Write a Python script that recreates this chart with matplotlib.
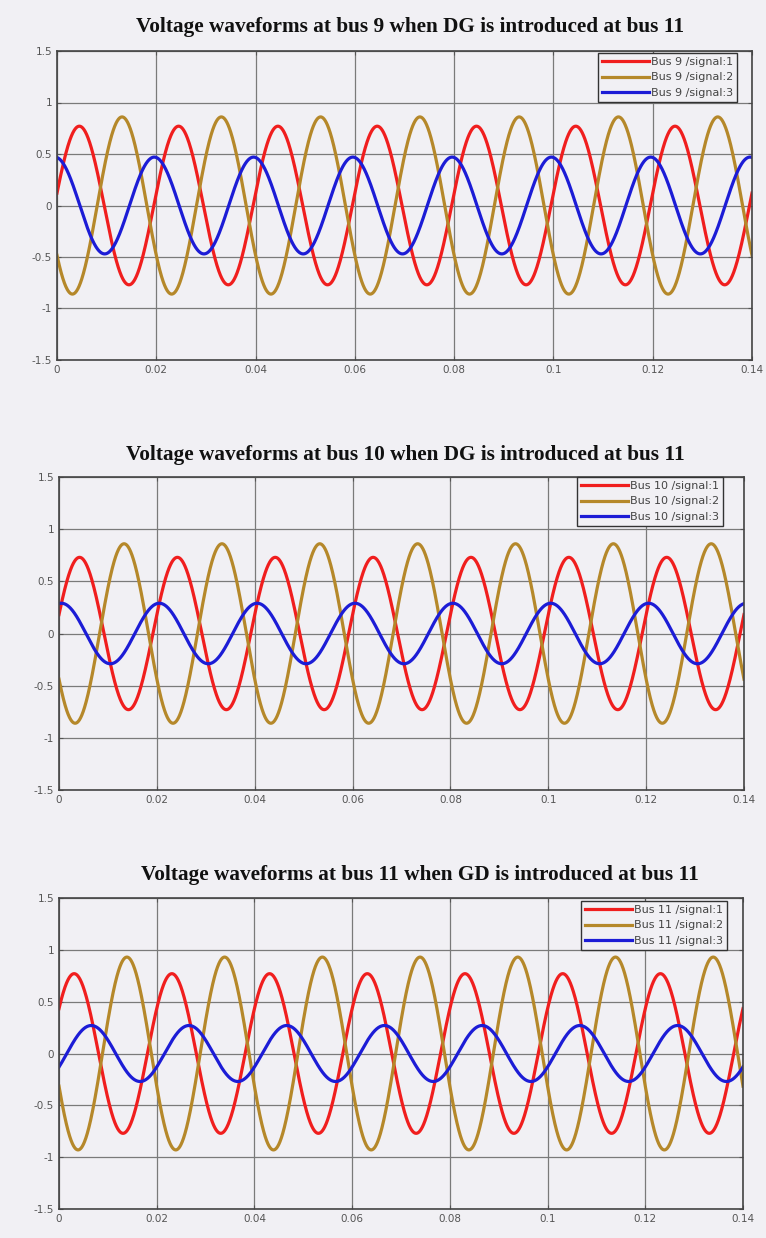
import numpy as np
import matplotlib
matplotlib.use("Agg")
import matplotlib.pyplot as plt

# ---- data ----
freq_hz = 50.0
t_end = 0.14
titles = [
    "Voltage waveforms at bus 9 when DG is introduced at bus 11",
    "Voltage waveforms at bus 10 when DG is introduced at bus 11",
    "Voltage waveforms at bus 11 when GD is introduced at bus 11",
]
bus_names = ["Bus 9", "Bus 10", "Bus 11"]
signal_labels = ["signal:1", "signal:2", "signal:3"]
# amplitude of each phase signal, per panel
amp_bus9 = [0.77, 0.86, 0.47]
amp_bus10 = [0.73, 0.86, 0.29]
amp_bus11 = [0.77, 0.93, 0.27]
# time of first positive peak (s), per panel
peak_bus9 = [0.0045, 0.0131, -0.0004]
peak_bus10 = [0.0042, 0.0133, 0.0005]
peak_bus11 = [0.0031, 0.0139, 0.0066]
xticks = [0, 0.02, 0.04, 0.06, 0.08, 0.1, 0.12, 0.14]
xticklabels = ["0", "0.02", "0.04", "0.06", "0.08", "0.1", "0.12", "0.14"]
yticks = [-1.5, -1, -0.5, 0, 0.5, 1, 1.5]
yticklabels = ["-1.5", "-1", "-0.5", "0", "0.5", "1", "1.5"]

amps = [amp_bus9, amp_bus10, amp_bus11]
peaks = [peak_bus9, peak_bus10, peak_bus11]
colors = ["#f01e1e", "#b5882a", "#1c1cd6"]

W, H = 766, 1238
bg = "#f1f0f4"
fig = plt.figure(figsize=(W / 100, H / 100), dpi=100, facecolor=bg)

# axes boxes in pixels: left, right, top, bottom
boxes = [(57, 752, 51, 360), (59, 744, 477, 790), (59, 743, 898, 1209)]
title_y = [27, 455, 875]
title_x = [410, 405, 420]
# legend upper-right corner (pixels)
leg_corner = [(737, 53), (723, 477), (727, 901)]

t = np.linspace(0, t_end, 3000)
for i in range(3):
    l, r, top, b = boxes[i]
    ax = fig.add_axes([l / W, 1 - b / H, (r - l) / W, (b - top) / H])
    ax.set_facecolor(bg)
    for k in range(3):
        y = amps[i][k] * np.cos(2 * np.pi * freq_hz * (t - peaks[i][k]))
        ax.plot(t, y, color=colors[k], lw=2.3,
                label=f"{bus_names[i]} /{signal_labels[k]}")
    ax.set_xlim(0, t_end)
    ax.set_ylim(-1.5, 1.5)
    ax.set_xticks(xticks)
    ax.set_xticklabels(xticklabels)
    ax.set_yticks(yticks)
    ax.set_yticklabels(yticklabels)
    ax.grid(True, color="#7a7a7a", lw=0.9)
    ax.set_axisbelow(True)
    ax.tick_params(direction="in", length=3, colors="#555555", labelsize=7.5,
                   labelcolor="#555555", top=True, right=True)
    for s in ax.spines.values():
        s.set_color("#444444")
        s.set_linewidth(1.2)
    cx, cy = leg_corner[i]
    leg = ax.legend(loc="upper right", bbox_to_anchor=(cx / W, 1 - cy / H),
                    bbox_transform=fig.transFigure,
                    fontsize=8, frameon=True, fancybox=False,
                    borderpad=0.35, labelspacing=0.5, handlelength=4.2,
                    handletextpad=0.2, borderaxespad=0.0)
    leg.get_frame().set_edgecolor("#333333")
    leg.get_frame().set_linewidth(1.0)
    leg.get_frame().set_facecolor(bg)
    leg.get_frame().set_alpha(1)
    for txt in leg.get_texts():
        txt.set_color("#444444")
    fig.text(title_x[i] / W, 1 - title_y[i] / H, titles[i], ha="center", va="center",
             family="Liberation Serif", weight="bold", fontsize=15.3, color="#111111")

fig.savefig("out.png", dpi=100, facecolor=bg)
